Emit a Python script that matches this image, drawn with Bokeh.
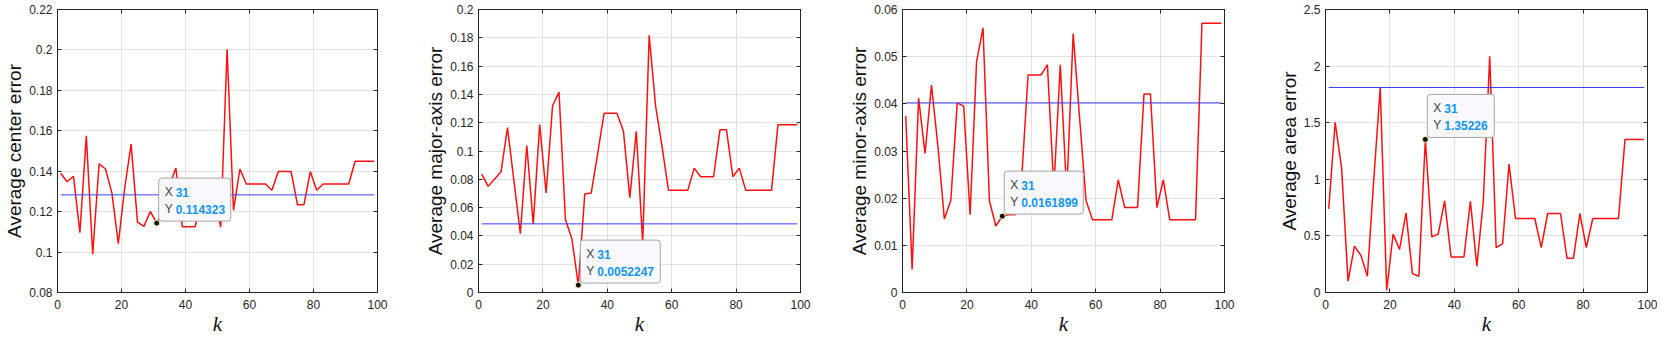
from bokeh.plotting import figure
from bokeh.layouts import row
from bokeh.models import Range1d, FixedTicker, LinearAxis, Label, CustomLabelingPolicy
from bokeh.embed import file_html
from bokeh.resources import INLINE

# ---------------- data ----------------
k_values = list(range(1, 100, 2))

center_err = [0.139, 0.1348, 0.1375, 0.1096, 0.1575, 0.0989, 0.1437, 0.1411, 0.1293, 0.1042,
              0.1317, 0.1534, 0.1148, 0.1127, 0.1201, 0.114323, 0.120, 0.133, 0.1416, 0.1125,
              0.1125, 0.1125, 0.125, 0.130, 0.128, 0.1124, 0.2003, 0.1207, 0.1411, 0.1337,
              0.1337, 0.1337, 0.1337, 0.1306, 0.1398, 0.1398, 0.1398, 0.1234, 0.1234, 0.1398,
              0.1306, 0.1337, 0.1337, 0.1337, 0.1337, 0.1337, 0.1449, 0.1449, 0.1449, 0.1449]

major_err = [0.0837, 0.0750, 0.0802, 0.0853, 0.1165, 0.079, 0.0415, 0.1039, 0.0485, 0.1186,
             0.0703, 0.132, 0.1416, 0.0516, 0.038, 0.0052247, 0.0696, 0.0703, 0.098, 0.1266,
             0.1266, 0.1266, 0.1142, 0.0671, 0.1139, 0.035, 0.1817, 0.1318, 0.1032, 0.0722,
             0.0722, 0.0722, 0.0722, 0.0879, 0.0818, 0.0818, 0.0818, 0.1151, 0.1151, 0.0818,
             0.0879, 0.0722, 0.0722, 0.0722, 0.0722, 0.0722, 0.1186, 0.1186, 0.1186, 0.1186]

minor_err = [0.0374, 0.0049, 0.0412, 0.0295, 0.044, 0.031, 0.0156, 0.0195, 0.0402, 0.0395,
             0.0165, 0.0489, 0.0561, 0.0194, 0.0141, 0.0161899, 0.0165, 0.0165, 0.024, 0.0461,
             0.0461, 0.0461, 0.0483, 0.022, 0.0483, 0.021, 0.0549, 0.037, 0.0195, 0.0154,
             0.0154, 0.0154, 0.0154, 0.0239, 0.018, 0.018, 0.018, 0.0421, 0.0421, 0.018,
             0.0239, 0.0154, 0.0154, 0.0154, 0.0154, 0.0154, 0.0571, 0.0571, 0.0571, 0.0571]

area_err = [0.739, 1.503, 1.099, 0.0996, 0.41, 0.328, 0.144, 1.0, 1.811, 0.02,
            0.516, 0.381, 0.703, 0.167, 0.144, 1.35226, 0.492, 0.516, 0.809, 0.314,
            0.314, 0.314, 0.806, 0.2315, 0.806, 2.087, 0.396, 0.431, 1.134, 0.654,
            0.654, 0.654, 0.654, 0.396, 0.698, 0.698, 0.698, 0.302, 0.302, 0.698,
            0.396, 0.654, 0.654, 0.654, 0.654, 0.654, 1.351, 1.351, 1.351, 1.351]

center_base = 0.1283
major_base = 0.0485
minor_base = 0.0402
area_base = 1.811

y_labels = ["Average center error", "Average major-axis error",
            "Average minor-axis error", "Average area error"]
x_label = "k"

x_ticks = [0, 20, 40, 60, 80, 100]
x_tick_labels = ["0", "20", "40", "60", "80", "100"]

center_ticks = [0.08, 0.1, 0.12, 0.14, 0.16, 0.18, 0.2, 0.22]
center_tick_labels = ["0.08", "0.1", "0.12", "0.14", "0.16", "0.18", "0.2", "0.22"]
major_ticks = [0, 0.02, 0.04, 0.06, 0.08, 0.1, 0.12, 0.14, 0.16, 0.18, 0.2]
major_tick_labels = ["0", "0.02", "0.04", "0.06", "0.08", "0.1", "0.12", "0.14", "0.16", "0.18", "0.2"]
minor_ticks = [0, 0.01, 0.02, 0.03, 0.04, 0.05, 0.06]
minor_tick_labels = ["0", "0.01", "0.02", "0.03", "0.04", "0.05", "0.06"]
area_ticks = [0, 0.5, 1, 1.5, 2, 2.5]
area_tick_labels = ["0", "0.5", "1", "1.5", "2", "2.5"]

tip_index = 15
tip_texts = ["0.114323", "0.0052247", "0.0161899", "1.35226"]

# ---------------- styling ----------------
AX = "#262626"
GRID = "#e1e1e1"
RED = "#ff1010"
BLUE = "#3d3dff"
TIPBLUE = "#0f95f5"
SANS = "Liberation Sans"
SERIF = "Liberation Serif"
H = 338
NO_LABELS = CustomLabelingPolicy(code="return new Set()")
X_MID = (x_ticks[0] + x_ticks[-1]) / 2


def make_panel(vals, base, y_rng, yt, ytl, ylab, tip_txt, fw, b_left, b_right, tip_w):
    p = figure(frame_width=fw, height=H,
               x_range=Range1d(x_ticks[0], x_ticks[-1]), y_range=Range1d(*y_rng),
               output_backend="svg", toolbar_location=None,
               min_border_left=b_left, min_border_right=b_right,
               min_border_top=9, min_border_bottom=45,
               background_fill_color="white", border_fill_color="white")
    p.outline_line_color = AX
    p.outline_line_width = 1
    p.outline_line_alpha = 1

    p.xaxis.ticker = FixedTicker(ticks=x_ticks)
    p.xaxis.major_label_overrides = dict(zip(x_ticks, x_tick_labels))
    p.yaxis.ticker = FixedTicker(ticks=yt)
    p.yaxis.major_label_overrides = dict(zip(yt, ytl))
    for ax in (p.xaxis[0], p.yaxis[0]):
        ax.axis_line_color = AX
        ax.major_tick_line_color = AX
        ax.major_tick_in = 4
        ax.major_tick_out = 0
        ax.minor_tick_line_color = None
        ax.major_label_text_font = SANS
        ax.major_label_text_font_size = "12px"
        ax.major_label_text_color = AX
    p.yaxis.major_label_standoff = 5
    p.xaxis.major_label_standoff = 7

    p.yaxis.axis_label = ylab
    p.yaxis.axis_label_text_font = SANS
    p.yaxis.axis_label_text_font_size = "19px"
    p.yaxis.axis_label_text_font_style = "normal"
    p.yaxis.axis_label_text_color = "#111111"
    p.yaxis.axis_label_standoff = 1

    # x title "k" carried as the single label of a second, bare bottom axis
    kax = LinearAxis(ticker=FixedTicker(ticks=[X_MID]), major_label_overrides={X_MID: x_label},
                     major_label_text_font=SERIF, major_label_text_font_size="21px",
                     major_label_text_font_style="italic", major_label_text_color="#111111",
                     major_label_standoff=0, major_tick_in=0, major_tick_out=0,
                     major_tick_line_color=None, minor_tick_line_color=None,
                     axis_line_color=None)
    p.add_layout(kax, "below")

    for loc, tk in (("right", yt), ("above", x_ticks)):
        ax = LinearAxis(ticker=FixedTicker(ticks=tk), major_label_text_font_size="1px",
                        major_label_policy=NO_LABELS,
                        major_label_standoff=0, major_tick_in=4, major_tick_out=0,
                        minor_tick_line_color=None, axis_line_color=AX,
                        major_tick_line_color=AX)
        p.add_layout(ax, loc)

    p.xgrid.grid_line_color = GRID
    p.ygrid.grid_line_color = GRID
    p.xgrid.ticker = FixedTicker(ticks=x_ticks)
    p.ygrid.ticker = FixedTicker(ticks=yt)

    p.line(k_values, vals, line_color=RED, line_width=1.5)
    p.line([k_values[0], k_values[-1]], [base, base], line_color=BLUE, line_width=1)

    tx = k_values[tip_index]
    ty = vals[tip_index]
    p.scatter([tx], [ty], size=6, fill_color="#111111", line_color="#f3eeb0", line_width=1)

    # datatip box (carries the "X" caption), then "Y" caption and blue values
    p.add_layout(Label(x=tx, y=ty, x_offset=2, y_offset=2, text="X",
                       text_font=SANS, text_font_size="12px", text_color="#404040",
                       text_align="left", text_baseline="bottom",
                       background_fill_color="#f9f9fd", background_fill_alpha=1,
                       border_line_color="#a5a5a5", border_line_width=1, border_radius=3,
                       padding=dict(left=6, right=tip_w - 14, top=7, bottom=22)))
    p.add_layout(Label(x=tx, y=ty, x_offset=8, y_offset=14, text="Y",
                       text_font=SANS, text_font_size="12px", text_color="#404040",
                       text_align="left", text_baseline="middle"))
    for yo, val in ((31, str(tx)), (14, tip_txt)):
        p.add_layout(Label(x=tx, y=ty, x_offset=19, y_offset=yo, text=val,
                           text_font=SANS, text_font_size="12px", text_font_style="bold",
                           text_color=TIPBLUE, text_align="left", text_baseline="middle"))
    return p


p1 = make_panel(center_err, center_base, (0.08, 0.22), center_ticks, center_tick_labels,
                y_labels[0], tip_texts[0], 320, 57, 44, 72)
p2 = make_panel(major_err, major_base, (0, 0.2), major_ticks, major_tick_labels,
                y_labels[1], tip_texts[1], 322, 57, 45, 80)
p3 = make_panel(minor_err, minor_base, (0, 0.06), minor_ticks, minor_tick_labels,
                y_labels[2], tip_texts[2], 322, 57, 51, 79)
p4 = make_panel(area_err, area_base, (0, 2.5), area_ticks, area_tick_labels,
                y_labels[3], tip_texts[3], 322, 50, 10, 67)

layout = row(p1, p2, p3, p4, spacing=0)
open("out.html", "w").write(file_html(layout, INLINE))
